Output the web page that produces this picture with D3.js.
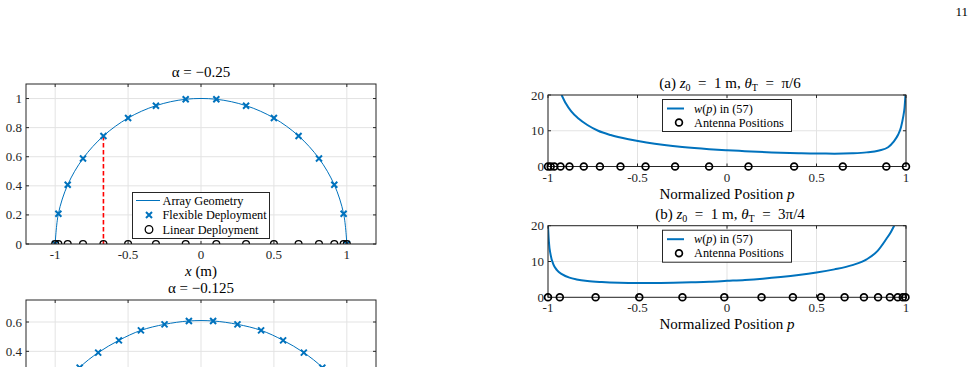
<!DOCTYPE html>
<html lang="en">
<head>
<meta charset="utf-8">
<script src="https://cdn.jsdelivr.net/npm/d3@7"></script>
<style>
  body { margin: 0; background: #fff; }
  svg { display: block; font-family: "Liberation Serif", "DejaVu Serif", serif; }
</style>
</head>
<body>
<script>
// left panels: array geometry (alpha = -0.25 and alpha = -0.125)
var flexX1 = [-1, -0.978, -0.914, -0.809, -0.669, -0.5, -0.309, -0.105, 0.105, 0.309, 0.5, 0.669, 0.809, 0.914, 0.978, 1];
var flexY1 = [0, 0.208, 0.407, 0.588, 0.743, 0.866, 0.951, 0.995, 0.995, 0.951, 0.866, 0.743, 0.588, 0.407, 0.208, 0];
var flexX2 = [-1, -0.93, -0.832, -0.705, -0.563, -0.412, -0.25, -0.083, 0.083, 0.25, 0.412, 0.563, 0.705, 0.832, 0.93, 1];
var flexY2 = [0, 0.16, 0.289, 0.391, 0.475, 0.543, 0.584, 0.607, 0.607, 0.584, 0.543, 0.475, 0.391, 0.289, 0.16, 0];
var markIdx1 = 4, markIdx2 = 2;
var xTicksL = [-1, -0.5, 0, 0.5, 1];
var yTicks1 = [0, 0.2, 0.4, 0.6, 0.8, 1];
var yTicks2 = [0, 0.2, 0.4, 0.6];

// right panels: w(p) and antenna positions
var posA = [-1, -0.985, -0.965, -0.93, -0.88, -0.8, -0.71, -0.595, -0.455, -0.29, -0.1, 0.12, 0.375, 0.647, 0.89, 1];
var wAp = [-0.924, -0.9, -0.87, -0.83, -0.78, -0.72, -0.65, -0.55, -0.45, -0.35, -0.25, -0.1, 0, 0.1, 0.25, 0.4, 0.5, 0.6, 0.7, 0.78, 0.85, 0.9, 0.93, 0.955, 0.972, 0.984, 0.992, 0.997];
var wAv = [20, 17.6, 15.4, 13.4, 11.6, 10.0, 8.8, 7.6, 6.7, 6.0, 5.45, 4.85, 4.55, 4.3, 3.95, 3.72, 3.62, 3.6, 3.7, 3.95, 4.5, 5.4, 6.9, 8.8, 11.0, 13.8, 16.5, 20];
var posB = [-1, -0.934, -0.734, -0.49, -0.249, -0.015, 0.193, 0.368, 0.525, 0.657, 0.765, 0.844, 0.91, 0.954, 0.982, 0.997];
var wBp = [-1, -0.995, -0.985, -0.97, -0.95, -0.92, -0.88, -0.84, -0.78, -0.7, -0.6, -0.5, -0.4, -0.3, -0.2, -0.1, 0, 0.1, 0.2, 0.3, 0.4, 0.5, 0.6, 0.7, 0.78, 0.84, 0.89, 0.915, 0.934];
var wBv = [20, 15.5, 11.8, 9.2, 7.6, 6.4, 5.5, 5.0, 4.55, 4.25, 4.05, 3.98, 4.0, 4.07, 4.2, 4.35, 4.6, 4.85, 5.2, 5.65, 6.2, 6.9, 7.8, 9.0, 10.6, 12.9, 16.3, 18.2, 20];
var xTicksR = [-1, -0.5, 0, 0.5, 1];
var yTicksR = [0, 10, 20];

var blue = '#0072BD';
var H = 367;

var svg = d3.select('body').append('svg')
    .attr('width', 975)
    .attr('height', H);

svg.append('text')
    .attr('x', 968).attr('y', 16)
    .attr('text-anchor', 'end')
    .style('font-size', '13px')
    .text('11');

var clipN = 0;

function frame(x, y, xt, yt) {
    var g = svg.append('g');
    var x0 = x.range()[0], x1 = x.range()[1];
    var y0 = y.range()[0], y1 = y.range()[1];
    g.selectAll('.gx').data(xt).enter().append('line')
        .attr('x1', function (d) { return x(d); }).attr('x2', function (d) { return x(d); })
        .attr('y1', y0).attr('y2', y1)
        .attr('stroke', '#e3e3e3').attr('stroke-width', 1);
    g.selectAll('.gy').data(yt).enter().append('line')
        .attr('x1', x0).attr('x2', x1)
        .attr('y1', function (d) { return y(d); }).attr('y2', function (d) { return y(d); })
        .attr('stroke', '#e3e3e3').attr('stroke-width', 1);
    var id = 'clip' + (clipN++);
    svg.append('clipPath').attr('id', id).append('rect')
        .attr('x', x0).attr('y', y1).attr('width', x1 - x0).attr('height', y0 - y1);
    return id;
}

function box(x, y, xt, yt, xLabels) {
    var g = svg.append('g');
    var x0 = x.range()[0], x1 = x.range()[1];
    var y0 = y.range()[0], y1 = y.range()[1];
    g.selectAll('.tx').data(xt).enter().append('path')
        .attr('d', function (d) { return 'M' + x(d) + ',' + y0 + 'v-3M' + x(d) + ',' + y1 + 'v3'; })
        .attr('stroke', '#262626');
    g.selectAll('.ty').data(yt).enter().append('path')
        .attr('d', function (d) { return 'M' + x0 + ',' + y(d) + 'h3M' + x1 + ',' + y(d) + 'h-3'; })
        .attr('stroke', '#262626');
    g.append('rect')
        .attr('x', x0).attr('y', y1).attr('width', x1 - x0).attr('height', y0 - y1)
        .attr('fill', 'none').attr('stroke', '#262626').attr('stroke-width', 1);
    if (xLabels) {
        g.selectAll('.lx').data(xt).enter().append('text')
            .attr('x', function (d) { return x(d); }).attr('y', y0 + 15)
            .attr('text-anchor', 'middle')
            .style('font-size', '13px').attr('fill', '#262626')
            .text(function (d) { return String(d); });
    }
    // only the labels that fall on the page
    g.selectAll('.ly').data(yt.filter(function (d) { return y(d) < H - 8; })).enter().append('text')
        .attr('x', x0 - 4).attr('y', function (d) { return y(d) + 4.5; })
        .attr('text-anchor', 'end')
        .style('font-size', '13px').attr('fill', '#262626')
        .text(function (d) { return String(d); });
}

function crosses(g, pts, x, y, s) {
    g.selectAll(null).data(pts).enter().append('path')
        .attr('d', function (d) {
            var cx = x(d[0]), cy = y(d[1]);
            return 'M' + (cx - s) + ',' + (cy - s) + 'L' + (cx + s) + ',' + (cy + s) +
                'M' + (cx - s) + ',' + (cy + s) + 'L' + (cx + s) + ',' + (cy - s);
        })
        .attr('stroke', blue).attr('stroke-width', 2).attr('fill', 'none');
}

function circles(g, xs, x, y, r, sw) {
    g.selectAll(null).data(xs).enter().append('circle')
        .attr('cx', function (d) { return x(d); })
        .attr('cy', y(0))
        .attr('r', r)
        .attr('fill', 'none').attr('stroke', '#000').attr('stroke-width', sw);
}

// ---------- left panels ----------
function geometry(fx, fy, idx, top, bottom, ymax, yt, title, withLabel) {
    var x = d3.scaleLinear().domain([-1.2, 1.2]).range([26, 376]);
    var y = d3.scaleLinear().domain([0, ymax]).range([bottom, top]);
    var id = frame(x, y, xTicksL, yt);
    var pts = fx.map(function (d, i) { return [d, fy[i]]; });
    var g = svg.append('g').attr('clip-path', 'url(#' + id + ')');
    g.append('path')
        .attr('d', d3.line().x(function (d) { return x(d[0]); }).y(function (d) { return y(d[1]); })
            .curve(d3.curveCatmullRom.alpha(0.5))(pts))
        .attr('fill', 'none').attr('stroke', blue).attr('stroke-width', 1);
    g.append('line')
        .attr('x1', x(fx[idx])).attr('x2', x(fx[idx]))
        .attr('y1', y(fy[idx])).attr('y2', y(0))
        .attr('stroke', '#ff0000').attr('stroke-width', 1.6)
        .attr('stroke-dasharray', '4.5,2.5');
    crosses(g, pts, x, y, 3);
    circles(g, fx, x, y, 3.4, 1.3);
    box(x, y, xTicksL, yt, withLabel);
    svg.append('text')
        .attr('x', 201).attr('y', top - 7)
        .attr('text-anchor', 'middle')
        .style('font-size', '15px')
        .text(title);
    if (withLabel) {
        var t = svg.append('text')
            .attr('x', 201).attr('y', bottom + 32)
            .attr('text-anchor', 'middle')
            .style('font-size', '15px');
        t.append('tspan').style('font-style', 'italic').text('x');
        t.append('tspan').text(' (m)');
    }
}

geometry(flexX1, flexY1, markIdx1, 84, 244, 1.1, yTicks1, 'α = −0.25', true);
geometry(flexX2, flexY2, markIdx2, 300, 410, 0.75, yTicks2, 'α = −0.125', false);

// legend for first left panel
var lg = svg.append('g');
lg.append('rect').attr('x', 132.5).attr('y', 192.5).attr('width', 137).attr('height', 46)
    .attr('fill', '#fff').attr('stroke', '#262626').attr('stroke-width', 1);
lg.append('line').attr('x1', 136).attr('x2', 160).attr('y1', 200.5).attr('y2', 200.5)
    .attr('stroke', blue).attr('stroke-width', 1);
lg.append('path').attr('d', 'M146,212L152,218M146,218L152,212')
    .attr('stroke', blue).attr('stroke-width', 2);
lg.append('circle').attr('cx', 149).attr('cy', 229.5).attr('r', 3.8)
    .attr('fill', 'none').attr('stroke', '#000').attr('stroke-width', 1.3);
['Array Geometry', 'Flexible Deployment', 'Linear Deployment'].forEach(function (s, i) {
    lg.append('text').attr('x', 162.5).attr('y', 204.5 + i * 14.5)
        .style('font-size', '12.3px').text(s);
});

// ---------- right panels ----------
function weightPanel(pos, wp, wv, top, bottom, label, thetaTxt) {
    var x = d3.scaleLinear().domain([-1, 1]).range([548, 906]);
    var y = d3.scaleLinear().domain([0, 20]).range([bottom, top]);
    var id = frame(x, y, xTicksR, yTicksR);
    var pts = wp.map(function (d, i) { return [d, wv[i]]; });
    var g = svg.append('g').attr('clip-path', 'url(#' + id + ')');
    g.append('path')
        .attr('d', d3.line().x(function (d) { return x(d[0]); }).y(function (d) { return y(d[1]); })
            .curve(d3.curveMonotoneX)(pts))
        .attr('fill', 'none').attr('stroke', blue).attr('stroke-width', 2);
    box(x, y, xTicksR, yTicksR, true);
    var gc = svg.append('g');
    circles(gc, pos, x, y, 3.4, 1.7);

    // title
    var t = svg.append('text')
        .attr('x', 730).attr('y', top - 7)
        .attr('text-anchor', 'middle')
        .style('font-size', '15px')
        .style('white-space', 'pre');
    t.append('tspan').text(label + ' ');
    t.append('tspan').style('font-style', 'italic').text('z');
    t.append('tspan').attr('dy', 3).style('font-size', '10px').text('0');
    t.append('tspan').attr('dy', -3).text('  =  1 m, ');
    t.append('tspan').style('font-style', 'italic').text('θ');
    t.append('tspan').attr('dy', 3).style('font-size', '10px').text('T');
    t.append('tspan').attr('dy', -3).text('  =  ' + thetaTxt);

    // x label
    var xl = svg.append('text')
        .attr('x', 727).attr('y', bottom + 32)
        .attr('text-anchor', 'middle')
        .style('font-size', '15px');
    xl.append('tspan').text('Normalized Position ');
    xl.append('tspan').style('font-style', 'italic').text('p');

    // legend
    var lg = svg.append('g');
    lg.append('rect').attr('x', 662.5).attr('y', top + 4.5).attr('width', 129).attr('height', 32)
        .attr('fill', '#fff').attr('stroke', '#262626').attr('stroke-width', 1);
    lg.append('line').attr('x1', 667).attr('x2', 684).attr('y1', top + 13.5).attr('y2', top + 13.5)
        .attr('stroke', blue).attr('stroke-width', 2);
    lg.append('circle').attr('cx', 679).attr('cy', top + 27.5).attr('r', 3.4)
        .attr('fill', 'none').attr('stroke', '#000').attr('stroke-width', 1.7);
    var l1 = lg.append('text').attr('x', 694).attr('y', top + 17.5).style('font-size', '12.3px');
    l1.append('tspan').style('font-style', 'italic').text('w');
    l1.append('tspan').text('(');
    l1.append('tspan').style('font-style', 'italic').text('p');
    l1.append('tspan').text(') in (57)');
    lg.append('text').attr('x', 694).attr('y', top + 31.5).style('font-size', '12.3px')
        .text('Antenna Positions');
}

weightPanel(posA, wAp, wAv, 95, 166.5, '(a)', 'π/6');
weightPanel(posB, wBp, wBv, 225.7, 297.3, '(b)', '3π/4');
</script>
</body>
</html>
